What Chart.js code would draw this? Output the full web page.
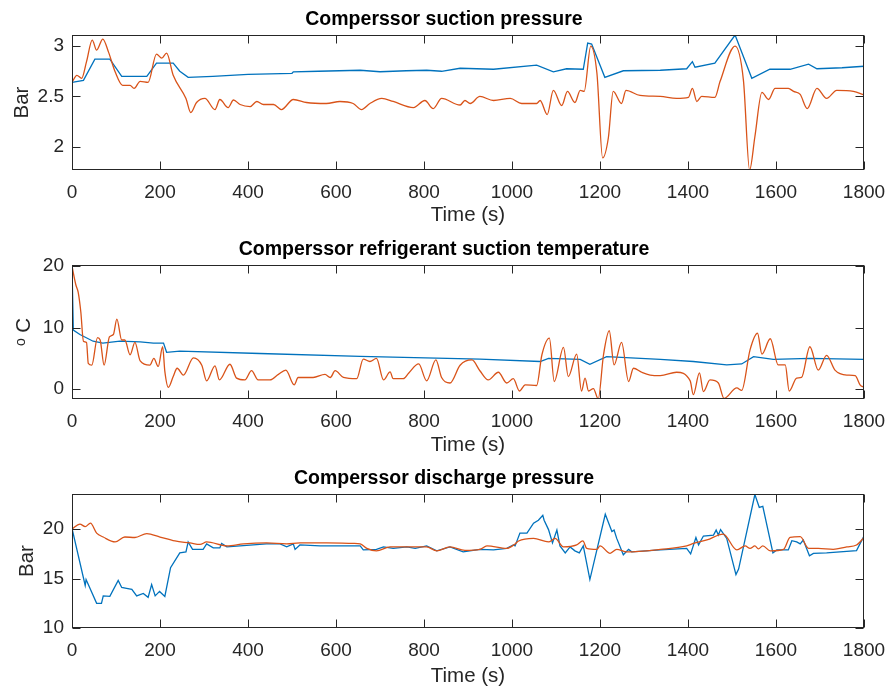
<!DOCTYPE html>
<html>
<head>
<meta charset="utf-8">
<title>Compressor signals</title>
<script src="https://cdn.jsdelivr.net/npm/chart.js@4.4.1/dist/chart.umd.min.js"></script>
<style>
  body { margin: 0; background: #fff; }
  canvas { position: absolute; left: 0; }
</style>
</head>
<body>
<canvas id="chartSuctionP" width="888" height="230" style="top:0px"></canvas>
<canvas id="chartSuctionT" width="888" height="230" style="top:230px"></canvas>
<canvas id="chartDischargeP" width="888" height="232" style="top:459px"></canvas>
<script>
// ---- data (time in s) ----
const xTicks = [0, 200, 400, 600, 800, 1000, 1200, 1400, 1600, 1800];

// Suction pressure (Bar)
const spTicks = [2, 2.5, 3];
const spBlueT = [0, 26, 52, 86, 113, 170, 192, 230, 245, 264, 320, 400, 500, 503, 560, 655, 700, 760, 806, 840, 882, 958, 1056, 1094, 1124, 1162, 1172, 1181, 1211, 1253, 1337, 1397, 1410, 1416, 1461, 1507, 1545, 1586, 1632, 1674, 1693, 1750, 1800];
const spBlue  = [2.64, 2.66, 2.87, 2.87, 2.70, 2.70, 2.83, 2.83, 2.75, 2.69, 2.70, 2.72, 2.73, 2.745, 2.75, 2.76, 2.745, 2.755, 2.76, 2.75, 2.78, 2.77, 2.81, 2.745, 2.775, 2.77, 3.03, 3.02, 2.69, 2.755, 2.76, 2.775, 2.845, 2.79, 2.83, 3.11, 2.68, 2.77, 2.77, 2.82, 2.775, 2.785, 2.80];
const spRedT = [0, 11, 22, 33, 46, 56, 70, 83, 98, 115, 132, 141, 155, 173, 192, 204, 215, 230, 259, 270, 283, 302, 325, 336, 355, 367, 382, 405, 420, 435, 458, 476, 503, 533, 578, 609, 639, 658, 677, 704, 730, 776, 802, 821, 840, 882, 893, 905, 927, 958, 996, 1022, 1056, 1064, 1080, 1094, 1113, 1126, 1143, 1155, 1164, 1179, 1193, 1206, 1219, 1230, 1249, 1259, 1291, 1337, 1374, 1401, 1410, 1420, 1431, 1461, 1473, 1507, 1526, 1540, 1552, 1568, 1583, 1598, 1628, 1640, 1655, 1671, 1693, 1715, 1738, 1776, 1800];
const spRed  = [2.64, 2.71, 2.68, 2.845, 3.06, 2.96, 3.07, 2.94, 2.745, 2.61, 2.61, 2.58, 2.65, 2.64, 2.92, 2.88, 2.93, 2.71, 2.48, 2.34, 2.44, 2.48, 2.37, 2.47, 2.39, 2.465, 2.42, 2.40, 2.45, 2.42, 2.42, 2.37, 2.47, 2.44, 2.43, 2.45, 2.43, 2.37, 2.43, 2.48, 2.45, 2.39, 2.46, 2.38, 2.48, 2.415, 2.46, 2.43, 2.50, 2.46, 2.48, 2.43, 2.43, 2.46, 2.32, 2.56, 2.41, 2.55, 2.44, 2.56, 2.55, 3.0, 2.73, 1.89, 2.09, 2.55, 2.43, 2.56, 2.51, 2.50, 2.48, 2.49, 2.58, 2.45, 2.50, 2.49, 2.65, 3.0, 2.66, 1.77, 2.10, 2.54, 2.47, 2.58, 2.58, 2.55, 2.52, 2.38, 2.58, 2.48, 2.56, 2.55, 2.515];

// Suction temperature (deg C)
const stTicks = [0, 10, 20];
const stBlueT = [0, 3, 18, 48, 70, 109, 155, 185, 208, 215, 245, 427, 655, 927, 1064, 1083, 1155, 1177, 1215, 1337, 1412, 1488, 1522, 1549, 1594, 1677, 1800];
const stBlue  = [20, 9.6, 8.9, 7.8, 7.5, 7.8, 7.7, 7.5, 7.5, 6.0, 6.2, 5.8, 5.35, 4.9, 4.5, 5.0, 4.85, 4.05, 5.3, 4.85, 4.5, 3.95, 4.1, 5.3, 4.85, 5.0, 4.86];
const stRedT = [0, 9, 14, 20, 26, 33, 37, 45, 58, 64, 73, 85, 94, 102, 113, 120, 132, 143, 155, 177, 186, 196, 206, 211, 219, 230, 239, 253, 276, 295, 306, 325, 335, 359, 374, 393, 408, 423, 450, 469, 486, 505, 514, 548, 575, 587, 598, 617, 647, 662, 677, 692, 708, 723, 730, 753, 765, 788, 806, 827, 840, 859, 882, 909, 927, 946, 969, 988, 1003, 1017, 1030, 1056, 1068, 1085, 1096, 1117, 1128, 1147, 1158, 1166, 1174, 1185, 1196, 1208, 1221, 1232, 1249, 1265, 1276, 1295, 1314, 1337, 1374, 1405, 1412, 1426, 1435, 1450, 1469, 1482, 1511, 1522, 1541, 1558, 1568, 1587, 1605, 1621, 1630, 1647, 1658, 1677, 1696, 1715, 1734, 1761, 1780, 1791, 1800];
const stRed  = [20, 16.9, 15.8, 12.6, 7.8, 7.6, 4.2, 3.9, 8.4, 8.0, 3.9, 8.5, 8.9, 11.4, 8.0, 8.0, 5.6, 7.6, 4.6, 3.9, 5.0, 3.7, 6.9, 2.9, 0.3, 2.05, 3.4, 2.3, 5.1, 3.9, 1.35, 3.8, 1.5, 4.05, 1.8, 1.5, 3.0, 1.5, 1.5, 2.4, 3.1, 0.7, 1.9, 1.9, 2.4, 1.9, 3.0, 1.9, 1.7, 4.9, 4.5, 5.0, 1.5, 2.8, 1.7, 1.7, 2.6, 4.1, 1.35, 4.75, 1.9, 1.0, 3.9, 4.75, 3.0, 1.5, 2.75, 1.0, 1.7, -0.3, 0.7, 0.6, 5.6, 8.3, 1.25, 6.8, 2.05, 5.7, -0.3, 1.8, -0.3, 0.1, -1.57, 5.6, 9.5, 3.95, 7.6, 1.25, 3.4, 2.75, 2.3, 2.2, 2.75, 1.35, -0.9, 2.65, -0.4, 1.5, 1.0, -1.5, 0.2, -0.2, 6.4, 9.1, 5.7, 8.2, 3.95, 3.95, -0.3, 1.8, 1.9, 6.9, 3.1, 5.5, 3.1, 2.3, 2.2, 0.7, 0.3];

// Discharge pressure (Bar)
const dpTicks = [10, 15, 20];
const dpBlueT = [0, 30, 32, 56, 67, 71, 86, 105, 113, 124, 136, 147, 162, 173, 181, 189, 199, 211, 224, 245, 259, 264, 274, 298, 306, 321, 336, 340, 352, 382, 412, 442, 473, 488, 503, 507, 518, 564, 602, 655, 662, 692, 708, 730, 761, 780, 806, 829, 859, 889, 927, 958, 988, 1003, 1007, 1018, 1034, 1049, 1060, 1070, 1073, 1083, 1092, 1102, 1109, 1121, 1132, 1143, 1153, 1162, 1177, 1212, 1227, 1232, 1238, 1253, 1265, 1272, 1337, 1397, 1406, 1418, 1424, 1435, 1458, 1464, 1469, 1474, 1488, 1509, 1515, 1552, 1562, 1570, 1593, 1602, 1628, 1636, 1647, 1655, 1662, 1676, 1685, 1715, 1783, 1800];
const dpBlue  = [20.07, 14.3, 14.9, 12.5, 12.5, 13.25, 13.2, 14.8, 14.1, 14.0, 13.9, 13.25, 13.5, 13.1, 14.4, 13.25, 13.7, 13.2, 16.1, 17.6, 17.7, 18.7, 17.95, 17.95, 18.5, 18.1, 18.1, 18.55, 18.2, 18.3, 18.4, 18.5, 18.5, 18.2, 18.5, 17.95, 18.4, 18.3, 18.3, 18.3, 17.9, 17.95, 18.2, 18.05, 18.2, 18.05, 18.3, 17.8, 18.2, 17.7, 17.95, 17.9, 18.05, 18.4, 18.3, 19.6, 19.6, 20.6, 20.9, 21.4, 20.9, 19.95, 18.6, 19.9, 18.3, 17.6, 18.2, 17.8, 17.6, 18.3, 14.9, 21.5, 19.75, 19.9, 19.06, 17.4, 17.95, 17.7, 17.9, 18.05, 17.5, 19.15, 18.4, 19.3, 19.4, 19.9, 19.4, 19.95, 19.06, 15.4, 15.95, 23.5, 22.2, 22.3, 17.6, 17.9, 17.9, 18.83, 18.7, 18.5, 18.9, 17.3, 17.55, 17.6, 17.82, 19.3];
const dpRedT = [0, 18, 30, 42, 56, 71, 98, 120, 143, 170, 200, 234, 268, 291, 306, 352, 390, 442, 488, 518, 579, 639, 655, 670, 692, 723, 768, 806, 829, 859, 893, 927, 943, 988, 1007, 1015, 1049, 1083, 1098, 1117, 1147, 1161, 1170, 1193, 1200, 1223, 1238, 1261, 1337, 1397, 1412, 1443, 1480, 1511, 1530, 1541, 1552, 1560, 1570, 1587, 1617, 1632, 1655, 1674, 1696, 1730, 1761, 1783, 1800];
const dpRed  = [20, 20.5, 20.25, 20.6, 19.6, 19.2, 18.7, 19.2, 19.15, 19.55, 19.2, 18.8, 18.6, 18.45, 18.7, 18.3, 18.5, 18.6, 18.5, 18.6, 18.6, 18.55, 18.5, 18.05, 17.8, 18.2, 18.2, 18.2, 17.8, 18.2, 17.85, 17.95, 18.3, 18.05, 18.5, 18.8, 19.06, 18.7, 19.06, 18.2, 18.4, 18.8, 18.05, 17.95, 18.3, 17.55, 17.95, 17.7, 17.95, 18.3, 18.55, 18.9, 19.5, 17.9, 18.3, 18.05, 18.3, 18.0, 18.3, 17.8, 17.95, 19.16, 19.23, 18.05, 18.05, 17.95, 18.2, 18.39, 19.16];

const BLUE = '#0072BD';
const ORANGE = '#D95319';
const AXIS = '#262626';
const FONT = '"Liberation Sans", Arial, Helvetica, sans-serif';

const toPoints = (ts, vs) => ts.map((t, i) => ({ x: t, y: vs[i] }));

// MATLAB-like box, inward ticks and axes title
const matlabAxes = {
    id: 'matlabAxes',
    afterDraw(chart, args, opts) {
        const { ctx, chartArea: a, scales } = chart;
        const L = Math.round(a.left) + 0.5, R = Math.round(a.right) - 0.5;
        const T = Math.round(a.top) + 0.5, B = Math.round(a.bottom) - 0.5;
        ctx.save();
        ctx.strokeStyle = AXIS;
        ctx.lineWidth = 1;
        ctx.beginPath();
        scales.x.ticks.forEach(t => {
            const px = Math.round(scales.x.getPixelForValue(t.value)) + 0.5;
            ctx.moveTo(px, B); ctx.lineTo(px, B - 8);
            ctx.moveTo(px, T); ctx.lineTo(px, T + 8);
        });
        scales.y.ticks.forEach(t => {
            const py = Math.round(scales.y.getPixelForValue(t.value)) + 0.5;
            ctx.moveTo(L, py); ctx.lineTo(L + 8, py);
            ctx.moveTo(R, py); ctx.lineTo(R - 8, py);
        });
        ctx.stroke();
        ctx.strokeRect(L, T, R - L, B - T);

        ctx.fillStyle = '#000';
        ctx.font = 'bold 19.5px ' + FONT;
        ctx.textAlign = 'center';
        ctx.textBaseline = 'middle';
        ctx.fillText(opts.text, 444, 20);
        ctx.restore();
    }
};

function makeChart(id, title, yLabel, yMin, yMax, yTicks, blue, red, xAxisH, yTitlePad) {
    return new Chart(document.getElementById(id), {
        type: 'line',
        data: {
            datasets: [
                { data: red, borderColor: ORANGE, borderWidth: 1.3, pointRadius: 0, cubicInterpolationMode: 'monotone', fill: false },
                { data: blue, borderColor: BLUE, borderWidth: 1.3, pointRadius: 0, tension: 0, fill: false }
            ]
        },
        options: {
            responsive: false,
            animation: false,
            events: [],
            layout: { padding: { top: 35, right: 24, left: 0, bottom: 0 } },
            plugins: {
                legend: { display: false },
                tooltip: { enabled: false },
                matlabAxes: { text: title }
            },
            scales: {
                x: {
                    type: 'linear',
                    min: 0, max: 1800,
                    grid: { display: false, drawTicks: false },
                    border: { display: false },
                    afterBuildTicks: s => { s.ticks = xTicks.map(v => ({ value: v })); },
                    afterFit: s => { s.height = xAxisH; s.paddingLeft = 0; s.paddingRight = 0; },
                    ticks: { color: AXIS, font: { family: FONT, size: 19 }, padding: 11, maxRotation: 0, callback: v => String(v) },
                    title: { display: true, text: 'Time (s)', color: AXIS, font: { family: FONT, size: 20.5 }, padding: { top: 0, bottom: 2 } }
                },
                y: {
                    min: yMin, max: yMax,
                    grid: { display: false, drawTicks: false },
                    border: { display: false },
                    afterBuildTicks: s => { s.ticks = yTicks.map(v => ({ value: v })); },
                    afterFit: s => { s.width = 72; s.paddingTop = 0; s.paddingBottom = 0; },
                    ticks: { color: AXIS, font: { family: FONT, size: 19 }, padding: 8, callback: v => String(v) },
                    title: { display: true, text: yLabel, color: AXIS, font: { family: FONT, size: 20.5 }, padding: { top: yTitlePad, bottom: 0 } }
                }
            }
        },
        plugins: [matlabAxes]
    });
}

makeChart('chartSuctionP', 'Comperssor suction pressure', 'Bar', 1.77, 3.11, spTicks,
    toPoints(spBlueT, spBlue), toPoints(spRedT, spRed), 60, 10);
makeChart('chartSuctionT', 'Comperssor refrigerant suction temperature', 'ᵒ C', -1.6, 20.2, stTicks,
    toPoints(stBlueT, stBlue), toPoints(stRedT, stRed), 61, 12);
makeChart('chartDischargeP', 'Comperssor discharge pressure', 'Bar', 10, 23.55, dpTicks,
    toPoints(dpBlueT, dpBlue), toPoints(dpRedT, dpRed), 63, 15);
</script>
</body>
</html>
